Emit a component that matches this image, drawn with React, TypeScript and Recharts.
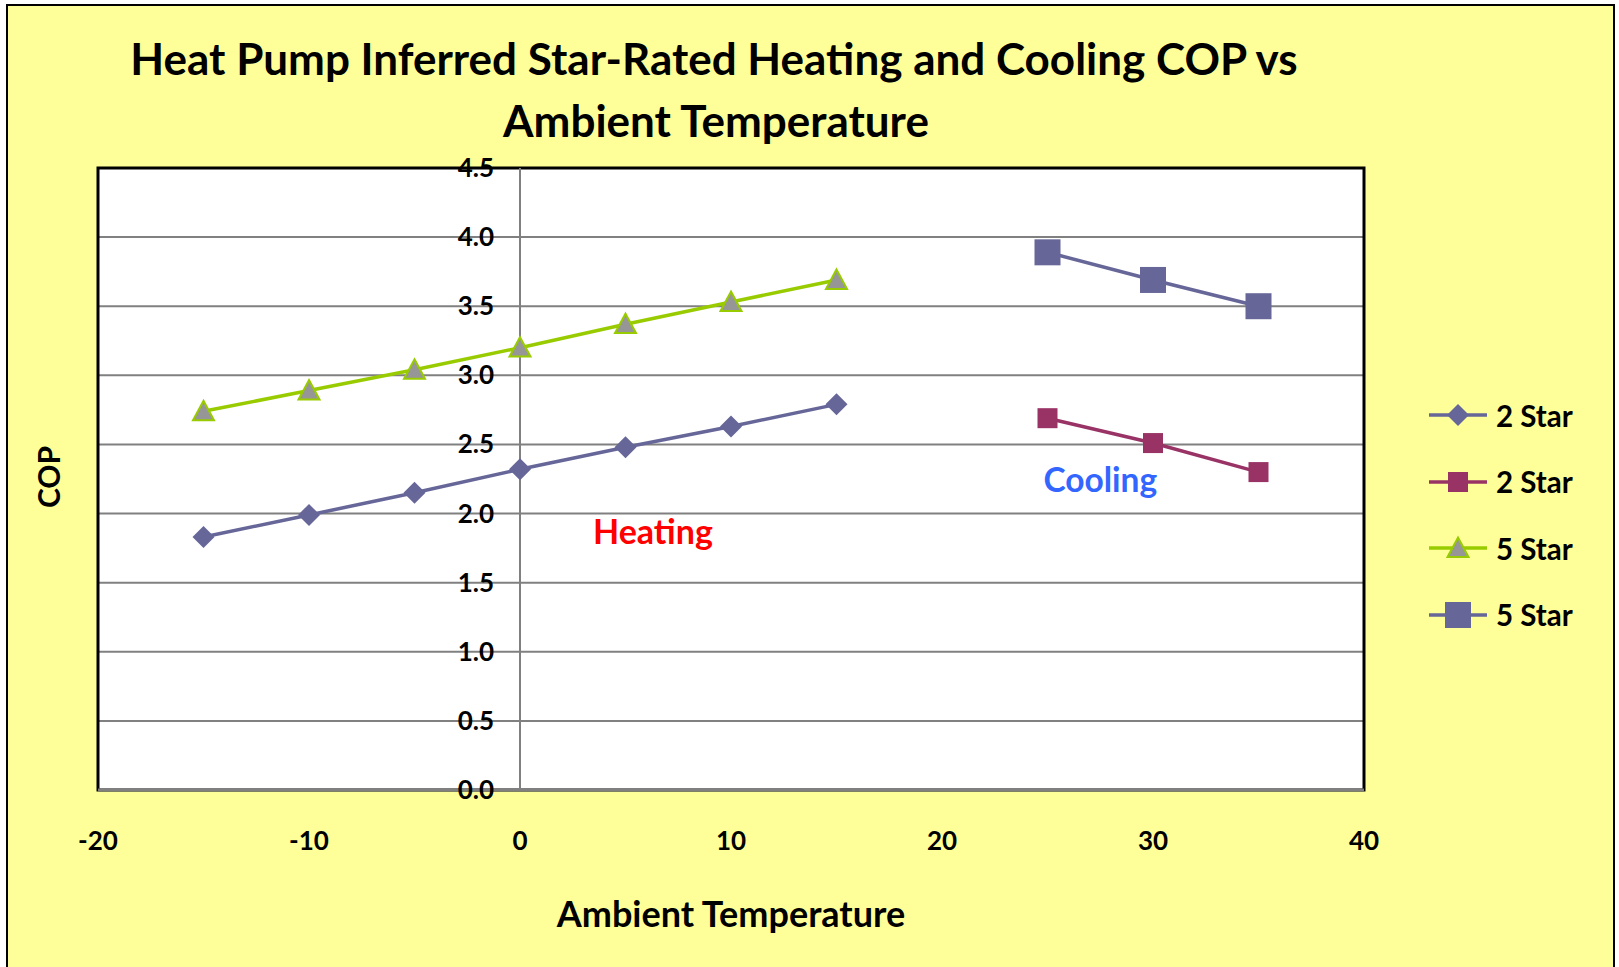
import React from 'react';
import { LineChart, Line, XAxis, YAxis, CartesianGrid, ReferenceLine, ReferenceArea, ReferenceDot } from 'recharts';

// ambient temperatures (°C) for the heating and cooling test points
const heatTemps = [-15, -10, -5, 0, 5, 10, 15];
const coolTemps = [25, 30, 35];

// COP values
const heat2Star = [1.83, 1.99, 2.15, 2.32, 2.48, 2.63, 2.79];
const heat5Star = [2.74, 2.89, 3.04, 3.2, 3.37, 3.53, 3.69];
const cool2Star = [2.69, 2.51, 2.3];
const cool5Star = [3.89, 3.69, 3.5];

const xTicks = [-20, -10, 0, 10, 20, 30, 40];
const yTicks = [0, 0.5, 1, 1.5, 2, 2.5, 3, 3.5, 4, 4.5];

const W = 1619;
const H = 967;
const FONT = 'Lato, "Open Sans", sans-serif';
const X_DOMAIN: [number, number] = [-20, 40];
const Y_DOMAIN: [number, number] = [0, 4.5];
const PLOT = { left: 98, top: 168, right: 1364, bottom: 790 };
const X_AXIS_H = 60;
const Y_AXIS_W = 1;

// x pixel where the value axis crosses (temperature 0)
const zeroX = PLOT.left + ((0 - X_DOMAIN[0]) / (X_DOMAIN[1] - X_DOMAIN[0])) * (PLOT.right - PLOT.left);

type Shape = 'diamond' | 'square' | 'triangle';

const series = [
  { key: 'h2', name: '2 Star', temps: heatTemps, values: heat2Star, color: '#666699', shape: 'diamond' as Shape, fill: '#666699', size: 22 },
  { key: 'c2', name: '2 Star', temps: coolTemps, values: cool2Star, color: '#993366', shape: 'square' as Shape, fill: '#993366', size: 20 },
  { key: 'h5', name: '5 Star', temps: heatTemps, values: heat5Star, color: '#99CC00', shape: 'triangle' as Shape, fill: '#969696', size: 21 },
  { key: 'c5', name: '5 Star', temps: coolTemps, values: cool5Star, color: '#666699', shape: 'square' as Shape, fill: '#666699', size: 26 },
];

function Marker({ cx, cy, shape, size, fill, stroke }: { cx: number; cy: number; shape: Shape; size: number; fill: string; stroke: string }) {
  const h = size / 2;
  if (shape === 'diamond') {
    return <polygon points={`${cx},${cy - h} ${cx + h},${cy} ${cx},${cy + h} ${cx - h},${cy}`} fill={fill} />;
  }
  if (shape === 'triangle') {
    return (
      <polygon
        points={`${cx},${cy - h} ${cx + h},${cy + h * 0.85} ${cx - h},${cy + h * 0.85}`}
        fill={fill}
        stroke={stroke}
        strokeWidth={2}
      />
    );
  }
  return <rect x={cx - h} y={cy - h} width={size} height={size} fill={fill} />;
}

const YTick = ({ y, payload }: any) => (
  <text x={zeroX - 26} y={y + 9} textAnchor="end" fontFamily={FONT} fontWeight={700} fontSize={26} fill="#000">
    {Number(payload.value).toFixed(1)}
  </text>
);

const XTick = ({ x, payload }: any) => (
  <text x={x} y={PLOT.bottom + 60} textAnchor="middle" fontFamily={FONT} fontWeight={700} fontSize={26} fill="#000">
    {payload.value}
  </text>
);

function LegendBox() {
  return (
    <div style={{ position: 'absolute', left: 1425, top: 382 }}>
      {series.map((s) => (
        <div key={s.key} style={{ display: 'flex', alignItems: 'center', height: 66.5 }}>
          <svg width={66} height={36}>
            <line x1={4} x2={62} y1={18} y2={18} stroke={s.color} strokeWidth={3.5} />
            <Marker cx={33} cy={18} shape={s.shape} size={s.size} fill={s.fill} stroke={s.color} />
          </svg>
          <span style={{ fontFamily: FONT, fontWeight: 700, fontSize: 29.5, marginLeft: 5, color: '#000' }}>{s.name}</span>
        </div>
      ))}
    </div>
  );
}

export default function App() {
  return (
    <div style={{ position: 'absolute', left: 0, top: 0, width: W, height: H, overflow: 'hidden' }}>
      <div
        style={{
          position: 'absolute',
          left: 6,
          top: 4,
          width: 1609,
          height: 1000,
          boxSizing: 'border-box',
          border: '2px solid #000',
          background: '#FFFF99',
        }}
      />
      <div style={{ position: 'absolute', left: 0, top: 0 }}>
        <LineChart
          width={W}
          height={H}
          margin={{ top: PLOT.top, left: PLOT.left - Y_AXIS_W, right: W - PLOT.right, bottom: H - PLOT.bottom - X_AXIS_H }}
        >
          <CartesianGrid vertical={false} stroke="#808080" strokeWidth={2} fill="#fff" fillOpacity={1} />
          <XAxis
            type="number"
            dataKey="t"
            domain={X_DOMAIN}
            ticks={xTicks}
            height={X_AXIS_H}
            tickLine={false}
            tickSize={0}
            axisLine={{ stroke: '#808080', strokeWidth: 3 }}
            tick={<XTick />}
            allowDataOverflow
          />
          <YAxis
            type="number"
            domain={Y_DOMAIN}
            ticks={yTicks}
            width={Y_AXIS_W}
            tickLine={false}
            axisLine={false}
            tick={<YTick />}
            interval={0}
          />
          <ReferenceLine x={0} stroke="#808080" strokeWidth={2} />
          <ReferenceArea x1={X_DOMAIN[0]} x2={X_DOMAIN[1]} y1={Y_DOMAIN[0]} y2={Y_DOMAIN[1]} fill="none" stroke="#000" strokeWidth={3} ifOverflow="visible" />
          {series.map((s) => (
            <Line
              key={s.key}
              data={s.temps.map((t, i) => ({ t, v: s.values[i] }))}
              dataKey="v"
              name={s.name}
              stroke={s.color}
              strokeWidth={3.5}
              isAnimationActive={false}
              dot={(p: any) => (
                <Marker key={`${s.key}-${p.index}`} cx={p.cx} cy={p.cy} shape={s.shape} size={s.size} fill={s.fill} stroke={s.color} />
              )}
              activeDot={false}
            />
          ))}
          <ReferenceDot
            x={6.3}
            y={1.87}
            r={0}
            ifOverflow="visible"
            label={{ value: 'Heating', position: 'center', fill: '#FF0000', fontSize: 34, fontWeight: 700, fontFamily: FONT }}
          />
          <ReferenceDot
            x={27.5}
            y={2.24}
            r={0}
            ifOverflow="visible"
            label={{ value: 'Cooling', position: 'center', fill: '#3366FF', fontSize: 33.5, fontWeight: 700, fontFamily: FONT }}
          />
          <text x={714} y={75} textAnchor="middle" fontFamily={FONT} fontWeight={700} fontSize={44} fill="#000">
            Heat Pump Inferred Star-Rated Heating and Cooling COP vs
          </text>
          <text x={716} y={137} textAnchor="middle" fontFamily={FONT} fontWeight={700} fontSize={44} fill="#000">
            Ambient Temperature
          </text>
          <text x={731} y={927} textAnchor="middle" fontFamily={FONT} fontWeight={700} fontSize={36} fill="#000">
            Ambient Temperature
          </text>
          <text
            x={48}
            y={477}
            textAnchor="middle"
            dominantBaseline="central"
            transform="rotate(-90 48 477)"
            fontFamily={FONT}
            fontWeight={700}
            fontSize={30}
            fill="#000"
          >
            COP
          </text>
        </LineChart>
      </div>
      <LegendBox />
    </div>
  );
}
